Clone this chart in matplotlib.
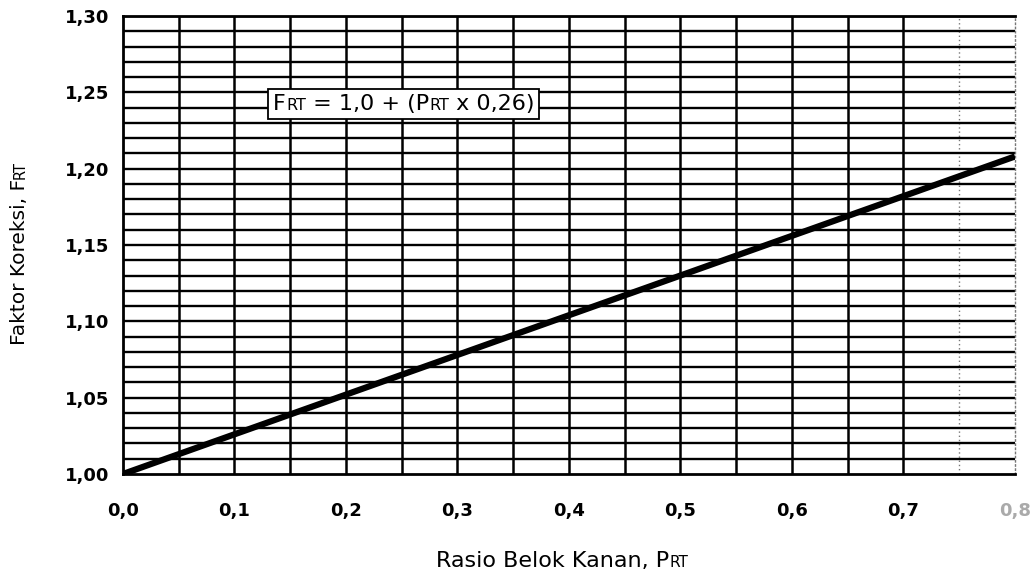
import matplotlib
matplotlib.use("Agg")
import matplotlib.pyplot as plt
from matplotlib.offsetbox import TextArea, HPacker, AnnotationBbox
import numpy as np

plt.rcParams['font.family'] = ['DejaVu Sans']

# Right-turn ratio vs. correction factor (two end points of the straight line)
p_rt = [0.0, 0.8]
f_rt = [1.00, 1.208]

x_ticks = [0.0, 0.1, 0.2, 0.3, 0.4, 0.5, 0.6, 0.7, 0.8]
x_tick_labels = ['0,0', '0,1', '0,2', '0,3', '0,4', '0,5', '0,6', '0,7', '0,8']
y_ticks = [1.00, 1.05, 1.10, 1.15, 1.20, 1.25, 1.30]
y_tick_labels = ['1,00', '1,05', '1,10', '1,15', '1,20', '1,25', '1,30']

fig = plt.figure(figsize=(10.36, 5.77), dpi=100)
ax = fig.add_axes([0.1187, 0.1785, 0.861, 0.7938])
ax.set_xlim(0.0, 0.8)
ax.set_ylim(1.0, 1.3)

# Grid: verticals every 0.05, horizontals every 0.01
for xv in np.arange(0.05, 0.80, 0.05):
    if abs(xv - 0.75) < 1e-6:
        ax.axvline(xv, color='#777777', lw=1.0, ls=(0, (1, 2)), zorder=1)
    else:
        ax.axvline(xv, color='black', lw=1.8, zorder=1)
for yv in np.arange(1.01, 1.30, 0.01):
    ax.axhline(yv, color='black', lw=1.7, zorder=1)

ax.plot(p_rt, f_rt, color='black', lw=4.5, solid_capstyle='butt', zorder=3)

for side in ['left', 'top', 'bottom']:
    ax.spines[side].set_linewidth(2.0)
ax.spines['right'].set_linewidth(1.0)
ax.spines['right'].set_linestyle((0, (1, 2)))
ax.spines['right'].set_color('#777777')

ax.set_xticks(x_ticks)
ax.set_xticklabels(x_tick_labels, fontsize=13, fontweight='bold')
ax.set_yticks(y_ticks)
ax.set_yticklabels(y_tick_labels, fontsize=13, fontweight='bold')
ax.xaxis.get_ticklabels()[-1].set_color('#aaaaaa')
ax.tick_params(axis='x', length=0, pad=20)
ax.tick_params(axis='y', length=0, pad=10)


def pieces_box(parts):
    areas = [TextArea(t, textprops=dict(fontsize=s, color='black')) for t, s in parts]
    return HPacker(children=areas, align='baseline', pad=0, sep=0)


# Equation box
eq = pieces_box([('F', 16), ('RT', 11.5), (' = 1,0 + (P', 16), ('RT', 11.5), (' x 0,26)', 16)])
ab = AnnotationBbox(eq, (0.2518, 1.2424), xycoords='data', frameon=True,
                    box_alignment=(0.5, 0.5), pad=0.35,
                    bboxprops=dict(facecolor='white', edgecolor='black', lw=1.3))
ab.set_zorder(5)
ax.add_artist(ab)

# X axis label
xl = pieces_box([('Rasio Belok Kanan, P', 16), ('RT', 11)])
abx = AnnotationBbox(xl, (562, 577 - 561), xycoords='figure pixels', frameon=False,
                     box_alignment=(0.5, 0.5), pad=0)
fig.add_artist(abx)

# Y axis label (rotated, drawn in two pieces)
y0 = 577 - 345
t1 = fig.text(25 / 1036, y0 / 577, 'Faktor Koreksi, F', fontsize=14.5, rotation=90,
              rotation_mode='anchor', ha='left', va='baseline')
ax.annotate('RT', xy=(25, 1.0), xycoords=('figure pixels', t1), fontsize=10.5,
            rotation=90, rotation_mode='anchor', ha='left', va='baseline',
            annotation_clip=False)

fig.savefig('out.png', dpi=100)
